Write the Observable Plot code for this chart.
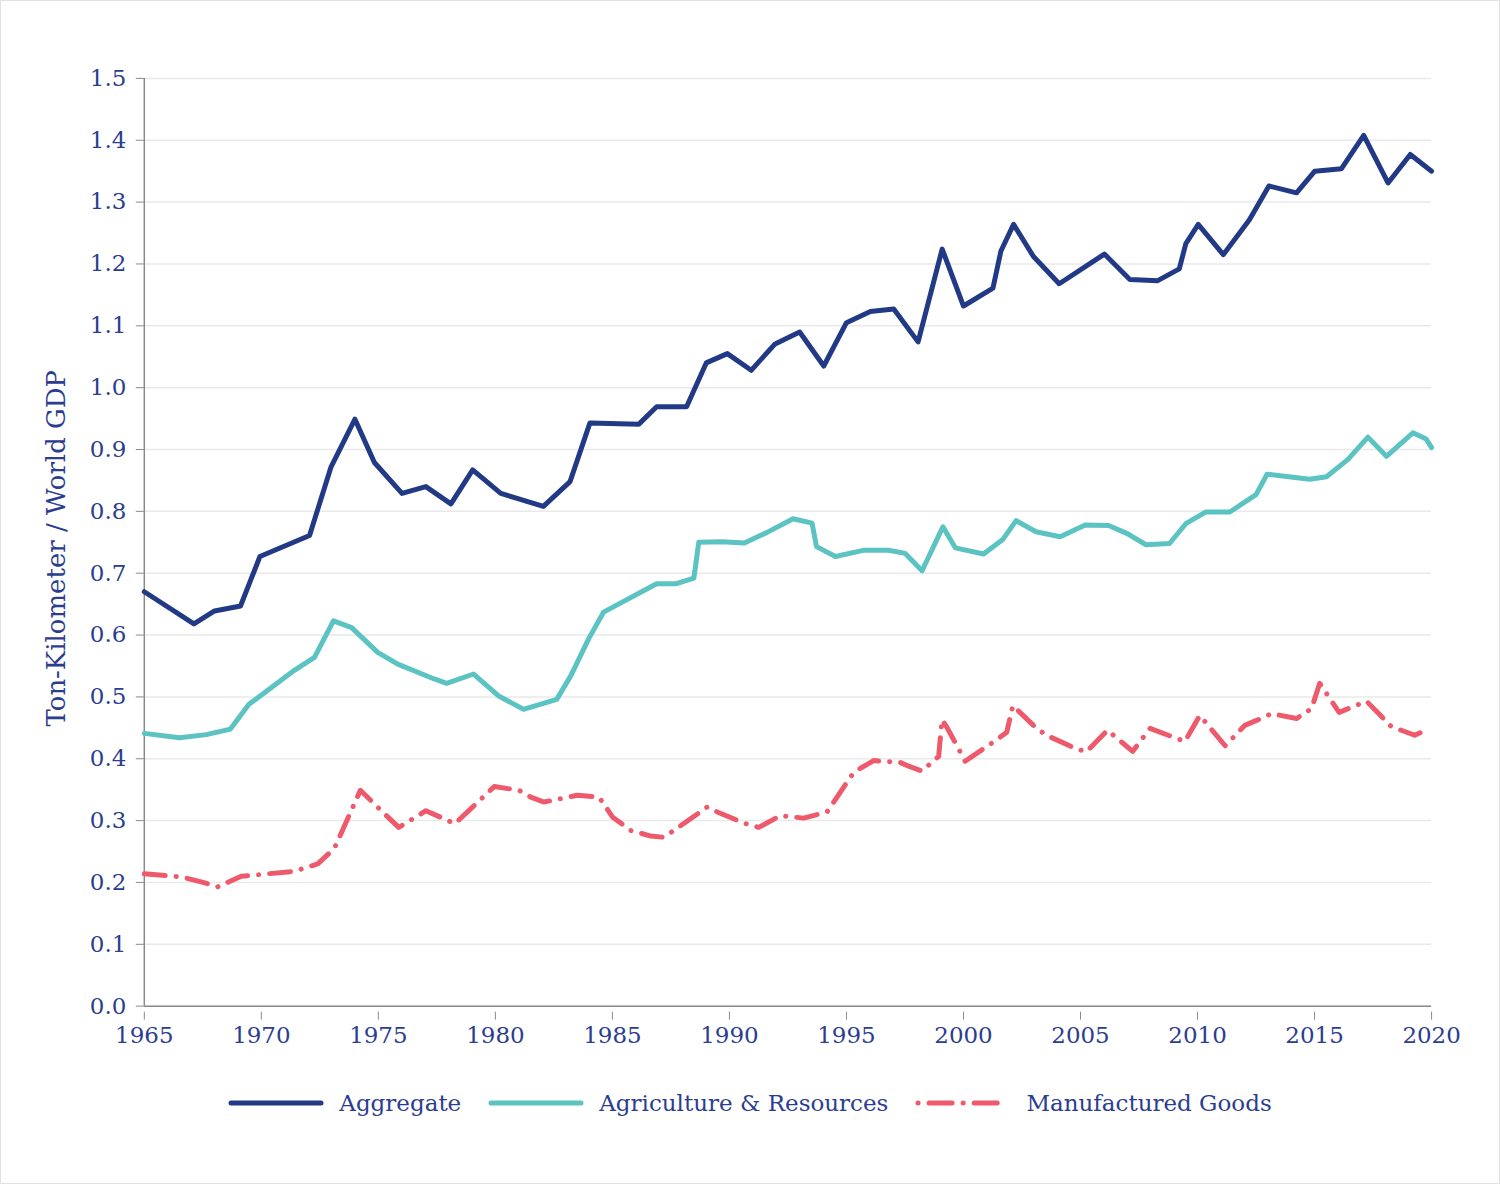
<!DOCTYPE html>
<html>
<head>
<meta charset="utf-8">
<script src="https://cdn.jsdelivr.net/npm/d3@7"></script>
<script src="https://cdn.jsdelivr.net/npm/@observablehq/plot@0.6"></script>
<style>
  html, body { margin: 0; padding: 0; background: #fff; }
  #page { width: 1500px; height: 1184px; box-sizing: border-box; border: 1px solid #e2e2e2; position: relative; overflow: hidden; }
  #chart svg { display: block; }
  #legend { display: flex; justify-content: center; align-items: center; gap: 27px; padding-top: 30px; font-family: "DejaVu Serif", serif; font-size: 23px; color: #2b3d8f; }
  .item { display: flex; align-items: center; gap: 15px; }
</style>
</head>
<body>
<div id="page">
  <div id="chart"></div>
  <div id="legend"></div>
</div>
<script>
const seriesNames = ["Aggregate", "Agriculture & Resources", "Manufactured Goods"];
const seriesColors = ["#223a86", "#5bc3c1", "#ee5a6b"];

const aggYears = [1965.0, 1967.12, 1968.0, 1969.11, 1969.94, 1972.06, 1972.98, 1974.0, 1974.83, 1976.01, 1977.03, 1978.1, 1979.03, 1980.23, 1982.05, 1983.19, 1984.04, 1986.13, 1986.89, 1988.17, 1989.01, 1989.91, 1990.93, 1991.93, 1993.0, 1994.03, 1995.0, 1996.02, 1997.02, 1998.06, 1999.09, 2000.0, 2001.26, 2001.6, 2002.14, 2002.99, 2004.09, 2006.02, 2007.11, 2008.3, 2009.22, 2009.5, 2010.03, 2011.1, 2012.21, 2013.05, 2014.23, 2015.01, 2016.15, 2017.1, 2018.14, 2019.09, 2020.0];
const aggValues = [0.670, 0.618, 0.639, 0.647, 0.727, 0.761, 0.872, 0.949, 0.879, 0.829, 0.840, 0.812, 0.867, 0.829, 0.808, 0.848, 0.943, 0.941, 0.969, 0.969, 1.040, 1.055, 1.028, 1.070, 1.090, 1.035, 1.105, 1.123, 1.127, 1.074, 1.224, 1.132, 1.161, 1.221, 1.264, 1.212, 1.168, 1.216, 1.175, 1.173, 1.192, 1.233, 1.264, 1.215, 1.271, 1.326, 1.315, 1.350, 1.354, 1.408, 1.331, 1.377, 1.350];

const agrYears = [1965.0, 1966.5, 1967.65, 1968.68, 1969.47, 1971.41, 1972.27, 1973.08, 1973.86, 1974.97, 1975.83, 1977.39, 1977.92, 1979.07, 1980.16, 1981.2, 1982.62, 1983.22, 1984.0, 1984.62, 1986.89, 1987.74, 1988.48, 1988.69, 1989.69, 1990.64, 1991.61, 1992.72, 1993.53, 1993.72, 1994.53, 1995.71, 1996.8, 1997.51, 1998.23, 1999.12, 1999.65, 2000.86, 2001.69, 2002.25, 2003.1, 2004.13, 2005.2, 2006.2, 2007.0, 2007.8, 2008.8, 2009.5, 2010.36, 2011.38, 2012.5, 2012.97, 2014.79, 2015.51, 2016.43, 2017.28, 2018.07, 2019.2, 2019.77, 2020.0];
const agrValues = [0.441, 0.434, 0.439, 0.448, 0.488, 0.543, 0.564, 0.623, 0.612, 0.572, 0.553, 0.529, 0.522, 0.537, 0.501, 0.480, 0.496, 0.534, 0.595, 0.637, 0.683, 0.683, 0.692, 0.750, 0.751, 0.749, 0.766, 0.788, 0.781, 0.743, 0.727, 0.737, 0.737, 0.732, 0.704, 0.775, 0.741, 0.731, 0.755, 0.785, 0.767, 0.759, 0.778, 0.777, 0.764, 0.746, 0.748, 0.780, 0.799, 0.799, 0.827, 0.860, 0.852, 0.856, 0.884, 0.920, 0.889, 0.927, 0.917, 0.903];

const manYears = [1965.0, 1966.58, 1967.43, 1968.14, 1969.14, 1969.99, 1971.41, 1972.41, 1973.12, 1974.23, 1975.4, 1975.87, 1977.03, 1978.27, 1979.95, 1981.01, 1981.51, 1982.08, 1983.5, 1984.43, 1985.0, 1985.78, 1986.64, 1987.2, 1988.34, 1989.05, 1989.48, 1990.61, 1991.25, 1992.18, 1993.17, 1994.17, 1994.74, 1995.31, 1996.16, 1997.3, 1997.66, 1998.23, 1998.94, 1999.08, 1999.29, 1999.79, 2000.07, 2001.43, 2001.85, 2002.11, 2002.99, 2003.49, 2004.7, 2005.24, 2006.15, 2007.23, 2007.97, 2008.96, 2009.46, 2010.1, 2011.18, 2012.02, 2012.52, 2013.16, 2014.23, 2014.87, 2015.22, 2016.05, 2017.22, 2018.28, 2019.28, 2019.8];
const manValues = [0.214, 0.209, 0.201, 0.193, 0.210, 0.213, 0.218, 0.230, 0.255, 0.349, 0.306, 0.289, 0.316, 0.295, 0.355, 0.349, 0.338, 0.330, 0.341, 0.338, 0.306, 0.284, 0.275, 0.273, 0.303, 0.322, 0.314, 0.296, 0.289, 0.308, 0.304, 0.314, 0.346, 0.378, 0.397, 0.394, 0.388, 0.380, 0.404, 0.463, 0.451, 0.416, 0.396, 0.431, 0.443, 0.486, 0.454, 0.439, 0.418, 0.411, 0.446, 0.412, 0.449, 0.435, 0.428, 0.470, 0.421, 0.454, 0.462, 0.473, 0.465, 0.481, 0.522, 0.475, 0.493, 0.452, 0.438, 0.447];

const xTicks = [1965, 1970, 1975, 1980, 1985, 1990, 1995, 2000, 2005, 2010, 2015, 2020];
const yTicks = [0, 0.1, 0.2, 0.3, 0.4, 0.5, 0.6, 0.7, 0.8, 0.9, 1.0, 1.1, 1.2, 1.3, 1.4, 1.5];
const yLabel = "Ton-Kilometer / World GDP";

const toRows = (ys, vs) => ys.map((y, i) => ({year: y, value: vs[i]}));
const agg = toRows(aggYears, aggValues);
const agr = toRows(agrYears, agrValues);
const man = toRows(manYears, manValues);

const textColor = "#2b3d8f";
const axisColor = "#8a8a8a";
const dash = "21,11,0.1,11";

const chart = Plot.plot({
  width: 1500,
  height: 1060,
  marginLeft: 143,
  marginRight: 68,
  marginTop: 77,
  marginBottom: 54,
  style: {fontFamily: "DejaVu Serif, serif", fontSize: "23px", color: textColor, background: "transparent"},
  x: {domain: [1965, 2020]},
  y: {domain: [0, 1.5]},
  marks: [
    Plot.gridY(yTicks, {stroke: "#e9e9e9", strokeOpacity: 1, strokeWidth: 1.5}),
    Plot.axisY(yTicks, {tickSize: 8, tickPadding: 10, tickFormat: d => d.toFixed(1), label: null, stroke: axisColor, fill: textColor, fontSize: 23}),
    Plot.axisX(xTicks, {tickSize: 8, tickPadding: 7, dy: 6, tickFormat: d => String(d), label: null, stroke: axisColor, fill: textColor, fontSize: 23}),
    Plot.ruleX([1965], {stroke: axisColor, strokeWidth: 1.5}),
    Plot.ruleY([0], {stroke: axisColor, strokeWidth: 1.5}),
    Plot.text([yLabel], {frameAnchor: "left", textAnchor: "middle", rotate: -90, dx: -88, dy: 6, fontSize: 26, fill: textColor}),
    Plot.lineY(man, {x: "year", y: "value", stroke: seriesColors[2], strokeWidth: 5, strokeDasharray: dash, strokeLinecap: "round", strokeLinejoin: "round"}),
    Plot.lineY(agr, {x: "year", y: "value", stroke: seriesColors[1], strokeWidth: 5, strokeLinejoin: "round", strokeLinecap: "round"}),
    Plot.lineY(agg, {x: "year", y: "value", stroke: seriesColors[0], strokeWidth: 5, strokeLinejoin: "round", strokeLinecap: "round"})
  ]
});
document.getElementById("chart").appendChild(chart);

const legend = document.getElementById("legend");
const swatchDash = ["", "", "0.1,11,23,11"];
seriesNames.forEach((name, i) => {
  const item = document.createElement("div");
  item.className = "item";
  const ns = "http://www.w3.org/2000/svg";
  const svg = document.createElementNS(ns, "svg");
  svg.setAttribute("width", "96");
  svg.setAttribute("height", "14");
  const line = document.createElementNS(ns, "line");
  line.setAttribute("x1", "3"); line.setAttribute("x2", "93");
  line.setAttribute("y1", "7"); line.setAttribute("y2", "7");
  line.setAttribute("stroke", seriesColors[i]);
  line.setAttribute("stroke-width", "5");
  line.setAttribute("stroke-linecap", "round");
  if (swatchDash[i]) line.setAttribute("stroke-dasharray", swatchDash[i]);
  svg.appendChild(line);
  const span = document.createElement("span");
  span.textContent = name;
  item.appendChild(svg);
  item.appendChild(span);
  legend.appendChild(item);
});
</script>
</body>
</html>
